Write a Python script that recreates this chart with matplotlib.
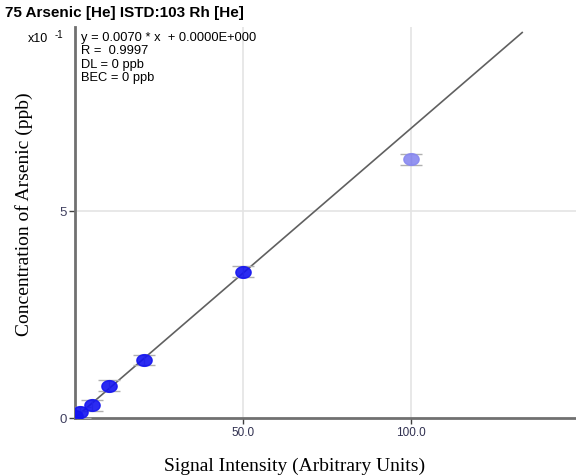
import numpy as np
import matplotlib
matplotlib.use("Agg")
import matplotlib.pyplot as plt
from matplotlib.path import Path

# calibration standards (signal, concentration in ppb)
signal = [0.0, 1.5, 5.0, 10.0, 20.5, 50.0, 100.0]
conc = [0.004, 0.014, 0.031, 0.078, 0.14, 0.353, 0.625]
excluded = [False, False, False, False, False, False, True]
slope = 0.0070
intercept = 0.0
fit_end = 133.0

xticks = [50.0, 100.0]
xtick_labels = ["50.0", "100.0"]
yticks = [0.0, 0.5]
ytick_labels = ["0", "5"]

title = "75 Arsenic [He] ISTD:103 Rh [He]"
stats = ["y = 0.0070 * x  + 0.0000E+000", "R =  0.9997", "DL = 0 ppb", "BEC = 0 ppb"]

sans = "Liberation Sans"
serif = "Liberation Serif"

# slightly flattened marker, like the instrument software draws
t = np.linspace(0, 2 * np.pi, 40)
ellipse = Path(np.column_stack([1.3 * np.cos(t), np.sin(t)]), closed=True)

fig = plt.figure(figsize=(5.76, 4.77), dpi=100)
ax = fig.add_axes([0.130, 0.1216, 0.870, 0.8194])

ax.set_xlim(0, 149)
ax.set_ylim(0, 0.944)

for x in xticks:
    ax.axvline(x, color="#e4e4e4", lw=1.2, zorder=0)
ax.axhline(yticks[1], color="#e4e4e4", lw=1.2, zorder=0)

xf = np.array([0.0, fit_end])
ax.plot(xf, slope * xf + intercept, color="#606060", lw=1.2, zorder=2)

for x, y, ex in zip(signal, conc, excluded):
    col = "#8888f0" if ex else "#1414f0"
    ax.errorbar(x, y, yerr=0.013, fmt="none", ecolor="#b0b0b0", elinewidth=1,
                capsize=8, capthick=1, zorder=3)
    ax.plot(x, y, marker=ellipse, ms=11, ls="none", color=col, mec=col,
            alpha=0.9, zorder=4)

for s in ["top", "right"]:
    ax.spines[s].set_visible(False)
for s in ["left", "bottom"]:
    ax.spines[s].set_color("#707070")
    ax.spines[s].set_linewidth(2)

ax.set_xticks(xticks)
ax.set_xticklabels(xtick_labels, fontfamily=sans, fontsize=8.5, color="#303050")
ax.set_yticks(yticks)
ax.set_yticklabels(ytick_labels, fontfamily=sans, fontsize=9.5, color="#404060")
ax.tick_params(axis="both", direction="out", length=4, width=1, color="#404040", pad=2)

ax.set_xlabel("Signal Intensity (Arbitrary Units)", fontfamily=serif, fontsize=14)
ax.xaxis.set_label_coords(0.439, -0.098)
ax.set_ylabel("Concentration of Arsenic (ppb)", fontfamily=serif, fontsize=14)
ax.yaxis.set_label_coords(-0.084, 0.524)

fig.text(0.009, 0.973, title, fontfamily=sans, fontweight="bold", fontsize=11,
         va="center", ha="left")
fig.text(0.049, 0.919, "x10", fontfamily=sans, fontsize=9, va="center", ha="left")
fig.text(0.094, 0.926, "-1", fontfamily=sans, fontsize=7, va="center", ha="left")

ax.text(0.013, 0.99, "\n".join(stats), transform=ax.transAxes, fontfamily=sans,
        fontsize=9.3, va="top", ha="left", linespacing=1.15)

fig.savefig("out.png", dpi=100)
